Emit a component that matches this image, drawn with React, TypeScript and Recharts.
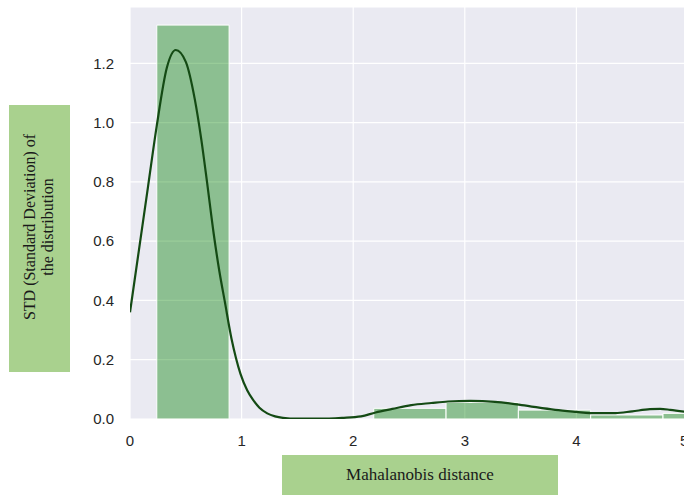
import React from 'react';
import { ComposedChart, Line, XAxis, YAxis, CartesianGrid, ReferenceArea } from 'recharts';

// histogram bins (Mahalanobis distance) and their heights
const binEdges = [0.24, 0.888, 1.536, 2.184, 2.832, 3.48, 4.128, 4.776, 5.424];
const binHeights = [1.329, 0, 0, 0.036, 0.056, 0.03, 0.0135, 0.019];

// kde curve
const kdeX = [
  0, 0.08, 0.16, 0.24, 0.33, 0.41, 0.5, 0.58, 0.64, 0.69, 0.75, 0.8, 0.85, 0.91, 0.95, 0.99,
  1.05, 1.1, 1.16, 1.23, 1.3, 1.37, 1.5, 1.7, 1.9, 2.07, 2.2, 2.35, 2.52, 2.7, 2.85, 3.05,
  3.27, 3.51, 3.81, 4.0, 4.12, 4.35, 4.5, 4.66, 4.75, 4.84, 4.98,
];
const kdeY = [
  0.36, 0.57, 0.78, 0.99, 1.185, 1.245, 1.205, 1.08, 0.94, 0.8, 0.625, 0.5, 0.395, 0.27, 0.205, 0.152,
  0.097, 0.066, 0.038, 0.019, 0.009, 0.004, 0.001, 0.001, 0.004, 0.009, 0.022, 0.034, 0.047, 0.054, 0.059, 0.061,
  0.058, 0.047, 0.031, 0.024, 0.02, 0.02, 0.026, 0.033, 0.034, 0.031, 0.024,
];

const xTicks = [0, 1, 2, 3, 4, 5];
const yTicks = [0, 0.2, 0.4, 0.6, 0.8, 1.0, 1.2];

const data = kdeX.map((x, i) => ({ x, y: kdeY[i] }));

const serif = "'Liberation Serif', 'Times New Roman', serif";
const tickStyle = { fill: '#262626', fontSize: 15, fontFamily: 'Arial, Liberation Sans, sans-serif' };

export default function App() {
  return (
    <div
      style={{
        position: 'fixed',
        left: 0,
        top: 0,
        width: 684,
        height: 495,
        overflow: 'hidden',
        background: '#fff',
      }}
    >
      <ComposedChart
        width={688}
        height={495}
        data={data}
        margin={{ top: 7, right: 0, bottom: 46, left: 0 }}
      >
        <CartesianGrid fill="#eaeaf2" stroke="#ffffff" strokeWidth={1.2} />
        <XAxis
          type="number"
          dataKey="x"
          domain={[0, 5]}
          ticks={xTicks}
          allowDataOverflow
          tickLine={false}
          axisLine={false}
          tickMargin={10}
          height={30}
          tick={tickStyle}
        />
        <YAxis
          type="number"
          domain={[0, 1.39]}
          ticks={yTicks}
          allowDataOverflow
          tickLine={false}
          axisLine={false}
          tickMargin={10}
          width={130}
          tickFormatter={(v: number) => v.toFixed(1)}
          tick={tickStyle}
        />
        {binHeights.map((h, i) =>
          h > 0 ? (
            <ReferenceArea
              key={i}
              x1={binEdges[i]}
              x2={binEdges[i + 1]}
              y1={0}
              y2={h}
              ifOverflow="visible"
              fill="#008000"
              fillOpacity={0.4}
              stroke="#ffffff"
              strokeWidth={1}
            />
          ) : null
        )}
        <Line
          type="monotone"
          dataKey="y"
          stroke="#144a14"
          strokeWidth={2.2}
          dot={false}
          activeDot={false}
          isAnimationActive={false}
        />
      </ComposedChart>

      <div
        style={{
          position: 'absolute',
          left: 9,
          top: 105,
          width: 61,
          height: 267,
          background: '#a9d18e',
          display: 'flex',
          alignItems: 'center',
          justifyContent: 'center',
        }}
      >
        <div
          style={{
            transform: 'rotate(-90deg)',
            whiteSpace: 'nowrap',
            fontFamily: serif,
            fontSize: 16,
            lineHeight: '18px',
            color: '#1a1a1a',
            textAlign: 'center',
            marginTop: -24,
          }}
        >
          STD (Standard Deviation) of
          <br />
          the distribution
        </div>
      </div>

      <div
        style={{
          position: 'absolute',
          left: 282,
          top: 455,
          width: 276,
          height: 40,
          background: '#a9d18e',
          display: 'flex',
          alignItems: 'center',
          justifyContent: 'center',
          fontFamily: serif,
          fontSize: 17,
          color: '#1a1a1a',
        }}
      >
        Mahalanobis distance
      </div>
    </div>
  );
}
